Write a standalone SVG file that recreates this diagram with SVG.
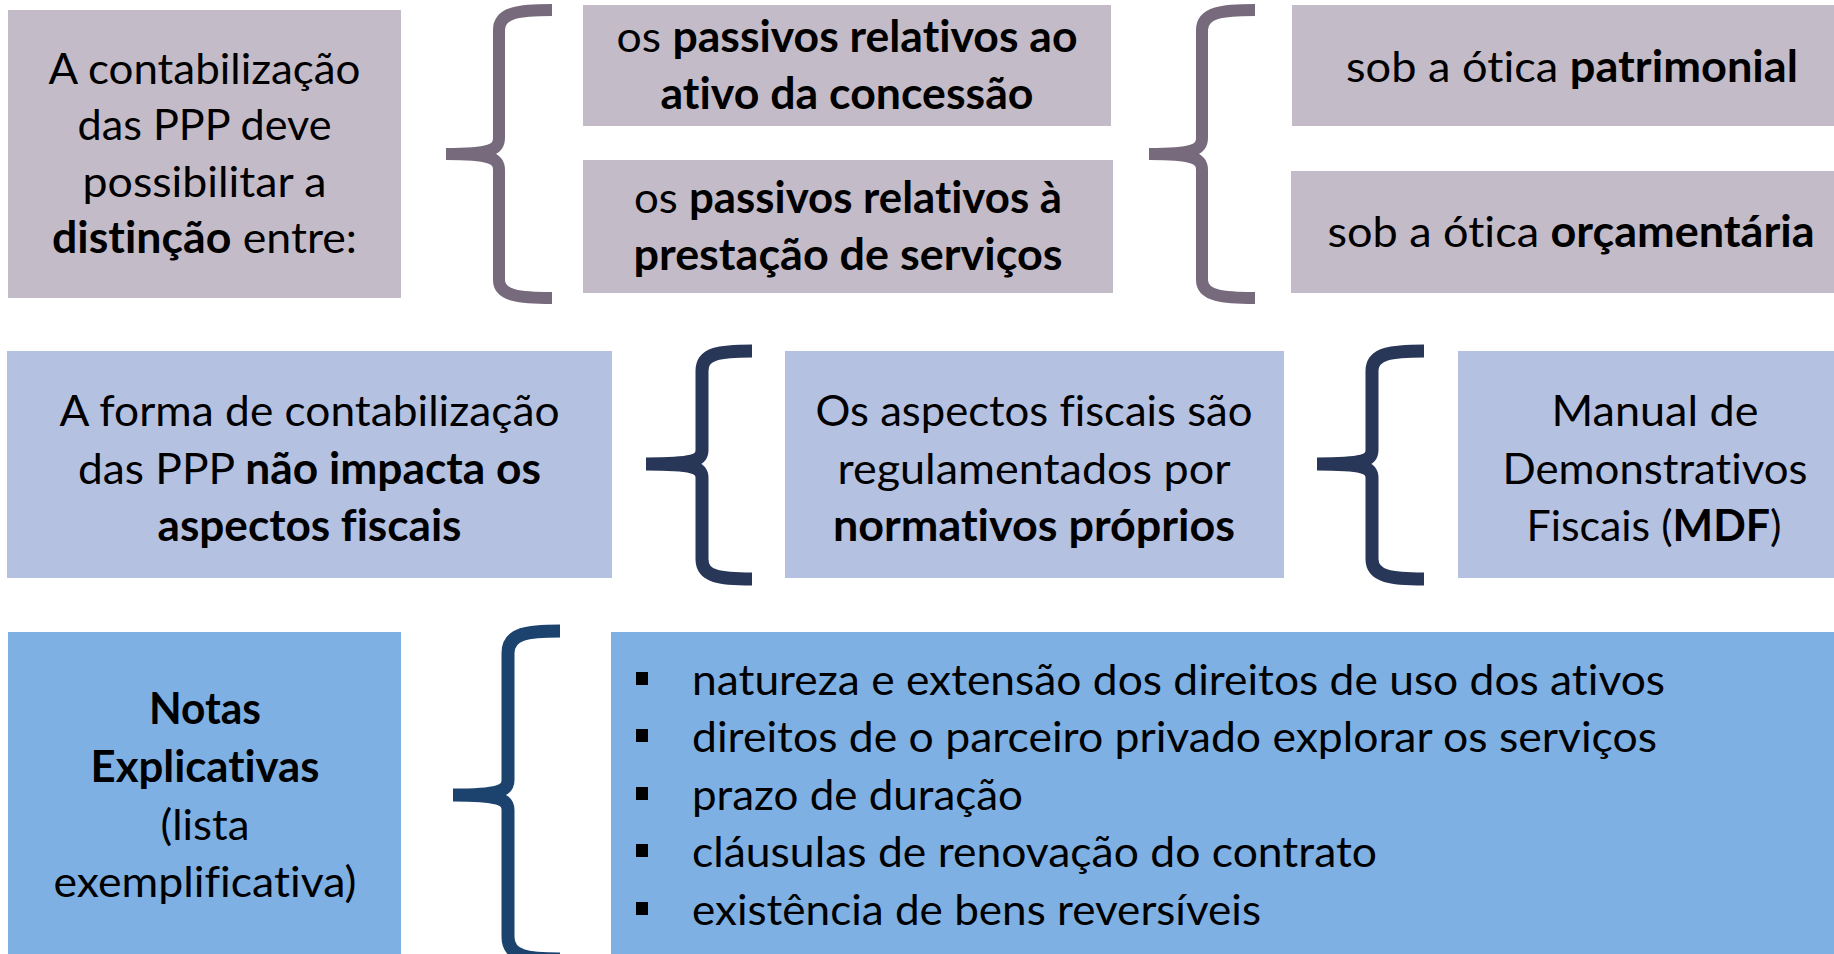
<svg xmlns="http://www.w3.org/2000/svg" width="1834" height="954" viewBox="0 0 1834 954">
<style>
text { font-family: Lato, "Liberation Sans", sans-serif; font-size: 43px; fill: #000; text-anchor: middle; font-variant-ligatures: none; font-feature-settings: "liga" 0, "dlig" 0; }
.s { text-anchor: start; }
.b { font-weight: bold; }
.r1 { fill: #C3BBC7; }
.r2 { fill: #B5C1E0; }
.r3 { fill: #7EB0E4; }
.br { fill: none; stroke-linecap: butt; stroke-linejoin: round; }
.br1 { stroke: #786A7D; stroke-width: 12; }
.br2 { stroke: #283657; stroke-width: 13; }
.br3 { stroke: #1B436E; stroke-width: 13; }
</style>
<rect x="0" y="0" width="1834" height="954" fill="#FFFFFF"/>

<g id="connectors">
  <path class="br br1" d="M552,10 C520,10 499,12 499,30 L499,138 C499,150 490,154 446,154 M446,154 C490,154 499,158 499,170 L499,280 C499,296 520,298 552,298"/>
  <path class="br br1" d="M1255,10 C1223,10 1202,12 1202,30 L1202,138 C1202,150 1193,154 1149,154 M1149,154 C1193,154 1202,158 1202,170 L1202,280 C1202,296 1223,298 1255,298"/>
  <path class="br br2" d="M752,351 C720,351 702,353 702,371 L702,450 C702,461 693,464 646,464 M646,464 C693,464 702,467 702,478 L702,559 C702,577 720,579 752,579"/>
  <path class="br br2" d="M1424,351 C1392,351 1372,353 1372,371 L1372,450 C1372,461 1363,464 1317,464 M1317,464 C1363,464 1372,467 1372,478 L1372,559 C1372,577 1392,579 1424,579"/>
  <path class="br br3" d="M560,631 C528,631 508,633 508,653 L508,780 C508,791 499,795 453,795 M453,795 C499,795 508,799 508,810 L508,937 C508,957 528,959 560,959"/>
</g>

<g id="node-a">
  <rect class="r1" x="8" y="10" width="393" height="288"/>
  <text x="204.5" y="84" textLength="312" lengthAdjust="spacingAndGlyphs">A contabilização</text>
  <text x="204.5" y="140" textLength="254" lengthAdjust="spacingAndGlyphs">das PPP deve</text>
  <text x="204.5" y="197" textLength="244" lengthAdjust="spacingAndGlyphs">possibilitar a</text>
  <text x="204.5" y="253" textLength="305" lengthAdjust="spacingAndGlyphs"><tspan class="b">distinção</tspan> entre:</text>
</g>

<g id="node-b1">
  <rect class="r1" x="583" y="5" width="528" height="121"/>
  <text x="847" y="52" textLength="461" lengthAdjust="spacingAndGlyphs">os <tspan class="b">passivos relativos ao</tspan></text>
  <text class="b" x="847" y="109" textLength="373" lengthAdjust="spacingAndGlyphs">ativo da concessão</text>
</g>

<g id="node-b2">
  <rect class="r1" x="583" y="160" width="530" height="133"/>
  <text x="848" y="213" textLength="428" lengthAdjust="spacingAndGlyphs">os <tspan class="b">passivos relativos à</tspan></text>
  <text class="b" x="848" y="270" textLength="429" lengthAdjust="spacingAndGlyphs">prestação de serviços</text>
</g>

<g id="node-c1">
  <rect class="r1" x="1292" y="5" width="560" height="121"/>
  <text x="1572" y="82" textLength="452" lengthAdjust="spacingAndGlyphs">sob a ótica <tspan class="b">patrimonial</tspan></text>
</g>

<g id="node-c2">
  <rect class="r1" x="1291" y="171" width="560" height="122"/>
  <text x="1571" y="247" textLength="487" lengthAdjust="spacingAndGlyphs">sob a ótica <tspan class="b">orçamentária</tspan></text>
</g>

<g id="node-d">
  <rect class="r2" x="7" y="351" width="605" height="227"/>
  <text x="309.5" y="426" textLength="500" lengthAdjust="spacingAndGlyphs">A forma de contabilização</text>
  <text x="309.5" y="484" textLength="463" lengthAdjust="spacingAndGlyphs">das PPP <tspan class="b">não impacta os</tspan></text>
  <text class="b" x="309.5" y="541" textLength="304" lengthAdjust="spacingAndGlyphs">aspectos fiscais</text>
</g>

<g id="node-e">
  <rect class="r2" x="785" y="351" width="499" height="227"/>
  <text x="1034" y="426" textLength="437" lengthAdjust="spacingAndGlyphs">Os aspectos fiscais são</text>
  <text x="1034" y="484" textLength="393" lengthAdjust="spacingAndGlyphs">regulamentados por</text>
  <text class="b" x="1034" y="541" textLength="402" lengthAdjust="spacingAndGlyphs">normativos próprios</text>
</g>

<g id="node-f">
  <rect class="r2" x="1458" y="351" width="392" height="227"/>
  <text x="1655" y="426" textLength="207" lengthAdjust="spacingAndGlyphs">Manual de</text>
  <text x="1655" y="484" textLength="305" lengthAdjust="spacingAndGlyphs">Demonstrativos</text>
  <text x="1654" y="541" textLength="255" lengthAdjust="spacingAndGlyphs">Fiscais (<tspan class="b">MDF</tspan>)</text>
</g>

<g id="node-g">
  <rect class="r3" x="8" y="632" width="393" height="330"/>
  <text class="b" x="205" y="724" textLength="112" lengthAdjust="spacingAndGlyphs">Notas</text>
  <text class="b" x="205" y="782" textLength="229" lengthAdjust="spacingAndGlyphs">Explicativas</text>
  <text x="205" y="840" textLength="89" lengthAdjust="spacingAndGlyphs">(lista</text>
  <text x="205" y="897" textLength="303" lengthAdjust="spacingAndGlyphs">exemplificativa)</text>
</g>

<g id="node-h">
  <rect class="r3" x="611" y="632" width="1240" height="330"/>
  <rect x="636" y="672" width="12" height="13" fill="#000"/>
  <rect x="636" y="729" width="12" height="13" fill="#000"/>
  <rect x="636" y="787" width="12" height="13" fill="#000"/>
  <rect x="636" y="844" width="12" height="13" fill="#000"/>
  <rect x="636" y="902" width="12" height="13" fill="#000"/>
  <text class="s" x="692" y="695" textLength="973" lengthAdjust="spacingAndGlyphs">natureza e extensão dos direitos de uso dos ativos</text>
  <text class="s" x="692" y="752" textLength="965" lengthAdjust="spacingAndGlyphs">direitos de o parceiro privado explorar os serviços</text>
  <text class="s" x="692" y="810" textLength="331" lengthAdjust="spacingAndGlyphs">prazo de duração</text>
  <text class="s" x="692" y="867" textLength="685" lengthAdjust="spacingAndGlyphs">cláusulas de renovação do contrato</text>
  <text class="s" x="692" y="925" textLength="569" lengthAdjust="spacingAndGlyphs">existência de bens reversíveis</text>
</g>
</svg>
